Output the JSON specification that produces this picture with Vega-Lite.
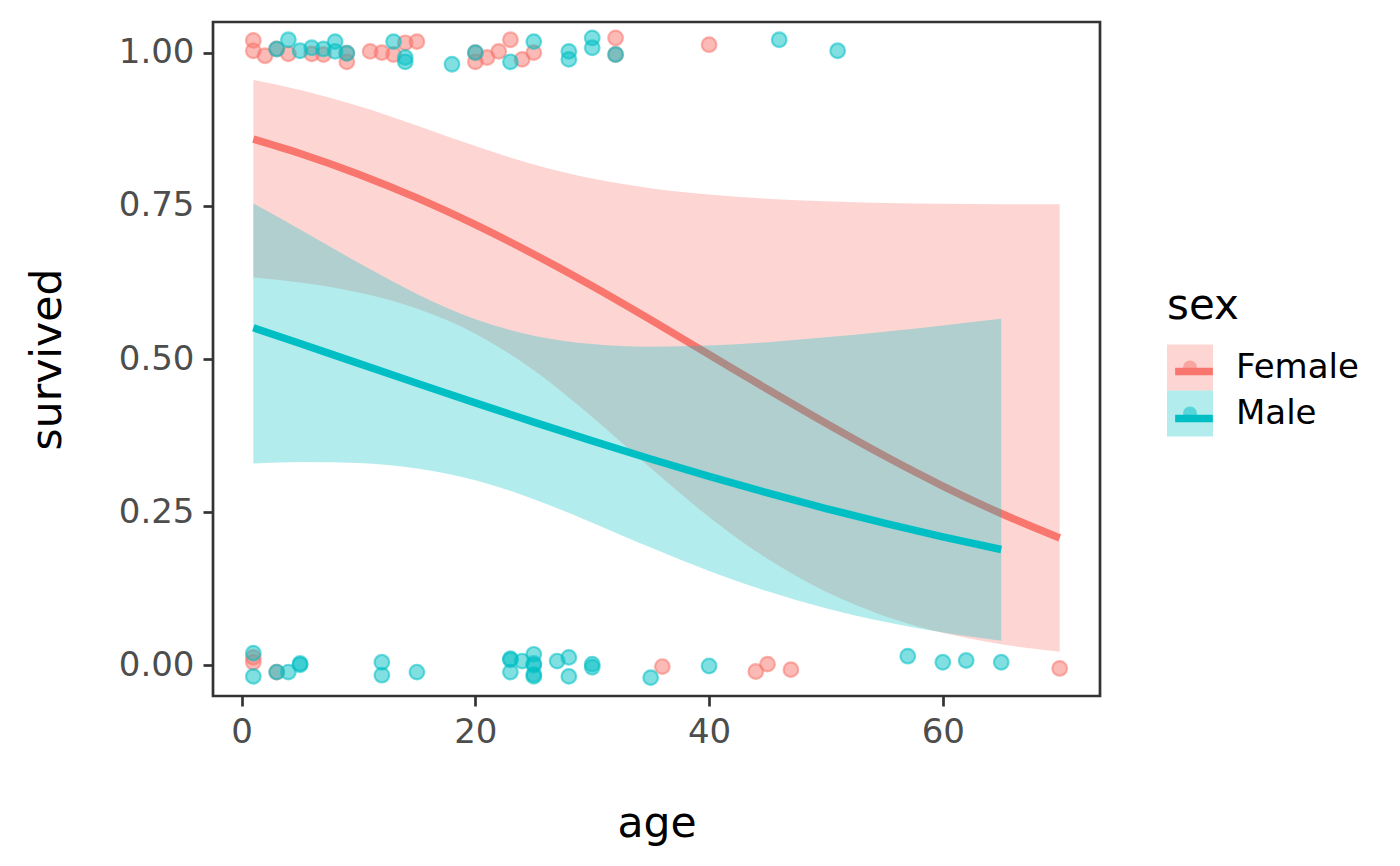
{
  "$schema": "https://vega.github.io/schema/vega-lite/v6.json",
  "width": 887,
  "height": 674,
  "autosize": {"type": "none"},
  "padding": {"left": 213, "top": 22, "right": 300, "bottom": 170},
  "background": "white",
  "config": {
    "font": "DejaVu Sans",
    "view": {"stroke": "#333333", "strokeWidth": 2.7},
    "axis": {
      "grid": false,
      "domain": false,
      "tickColor": "#333333",
      "tickWidth": 2.7,
      "tickSize": 10,
      "labelFont": "DejaVu Sans",
      "labelFontSize": 34,
      "labelColor": "#4D4D4D",
      "labelPadding": 9,
      "labelOverlap": false,
      "titleFont": "DejaVu Sans",
      "titleFontSize": 42.5,
      "titleFontWeight": "normal",
      "titleColor": "black"
    },
    "legend": {
      "orient": "none",
      "legendX": 954,
      "legendY": 264,
      "padding": 0,
      "rowPadding": 0,
      "titleFont": "DejaVu Sans",
      "titleFontSize": 42,
      "titleFontWeight": "normal",
      "titleColor": "black",
      "titlePadding": 16.5,
      "labelFont": "DejaVu Sans",
      "labelFontSize": 34,
      "labelColor": "black",
      "labelOffset": 23,
      "symbolSize": 2116
    }
  },
  "datasets": {
    "pts": [
      {"sex": "Female", "age": 1, "survived": 1.020},
      {"sex": "Female", "age": 1, "survived": 1.003},
      {"sex": "Female", "age": 2, "survived": 0.995},
      {"sex": "Female", "age": 3, "survived": 1.006},
      {"sex": "Female", "age": 4, "survived": 0.998},
      {"sex": "Female", "age": 6, "survived": 0.998},
      {"sex": "Female", "age": 7, "survived": 0.997},
      {"sex": "Female", "age": 9, "survived": 0.999},
      {"sex": "Female", "age": 9, "survived": 0.985},
      {"sex": "Female", "age": 11, "survived": 1.002},
      {"sex": "Female", "age": 12, "survived": 1.000},
      {"sex": "Female", "age": 13, "survived": 0.997},
      {"sex": "Female", "age": 14, "survived": 1.016},
      {"sex": "Female", "age": 15, "survived": 1.018},
      {"sex": "Female", "age": 20, "survived": 1.000},
      {"sex": "Female", "age": 20, "survived": 0.985},
      {"sex": "Female", "age": 21, "survived": 0.992},
      {"sex": "Female", "age": 22, "survived": 1.002},
      {"sex": "Female", "age": 23, "survived": 1.021},
      {"sex": "Female", "age": 24, "survived": 0.989},
      {"sex": "Female", "age": 25, "survived": 1.000},
      {"sex": "Female", "age": 32, "survived": 1.024},
      {"sex": "Female", "age": 32, "survived": 0.997},
      {"sex": "Female", "age": 40, "survived": 1.013},
      {"sex": "Male", "age": 3, "survived": 1.006},
      {"sex": "Male", "age": 4, "survived": 1.021},
      {"sex": "Male", "age": 5, "survived": 1.003},
      {"sex": "Male", "age": 6, "survived": 1.008},
      {"sex": "Male", "age": 7, "survived": 1.006},
      {"sex": "Male", "age": 8, "survived": 1.018},
      {"sex": "Male", "age": 8, "survived": 1.002},
      {"sex": "Male", "age": 9, "survived": 0.999},
      {"sex": "Male", "age": 13, "survived": 1.018},
      {"sex": "Male", "age": 14, "survived": 0.992},
      {"sex": "Male", "age": 14, "survived": 0.985},
      {"sex": "Male", "age": 18, "survived": 0.981},
      {"sex": "Male", "age": 20, "survived": 1.000},
      {"sex": "Male", "age": 23, "survived": 0.985},
      {"sex": "Male", "age": 25, "survived": 1.018},
      {"sex": "Male", "age": 28, "survived": 1.002},
      {"sex": "Male", "age": 28, "survived": 0.989},
      {"sex": "Male", "age": 30, "survived": 1.024},
      {"sex": "Male", "age": 30, "survived": 1.008},
      {"sex": "Male", "age": 32, "survived": 0.997},
      {"sex": "Male", "age": 46, "survived": 1.021},
      {"sex": "Male", "age": 51, "survived": 1.003},
      {"sex": "Female", "age": 1, "survived": 0.013},
      {"sex": "Female", "age": 1, "survived": 0.005},
      {"sex": "Female", "age": 3, "survived": -0.011},
      {"sex": "Female", "age": 36, "survived": -0.002},
      {"sex": "Female", "age": 44, "survived": -0.010},
      {"sex": "Female", "age": 45, "survived": 0.002},
      {"sex": "Female", "age": 47, "survived": -0.007},
      {"sex": "Female", "age": 70, "survived": -0.005},
      {"sex": "Male", "age": 1, "survived": 0.020},
      {"sex": "Male", "age": 1, "survived": -0.018},
      {"sex": "Male", "age": 3, "survived": -0.011},
      {"sex": "Male", "age": 4, "survived": -0.011},
      {"sex": "Male", "age": 5, "survived": 0.003},
      {"sex": "Male", "age": 5, "survived": 0.001},
      {"sex": "Male", "age": 12, "survived": 0.005},
      {"sex": "Male", "age": 12, "survived": -0.016},
      {"sex": "Male", "age": 15, "survived": -0.011},
      {"sex": "Male", "age": 23, "survived": 0.011},
      {"sex": "Male", "age": 23, "survived": 0.009},
      {"sex": "Male", "age": 23, "survived": -0.011},
      {"sex": "Male", "age": 24, "survived": 0.007},
      {"sex": "Male", "age": 25, "survived": 0.018},
      {"sex": "Male", "age": 25, "survived": 0.003},
      {"sex": "Male", "age": 25, "survived": 0.000},
      {"sex": "Male", "age": 25, "survived": -0.015},
      {"sex": "Male", "age": 25, "survived": -0.018},
      {"sex": "Male", "age": 27, "survived": 0.007},
      {"sex": "Male", "age": 28, "survived": 0.013},
      {"sex": "Male", "age": 28, "survived": -0.018},
      {"sex": "Male", "age": 30, "survived": 0.002},
      {"sex": "Male", "age": 30, "survived": -0.003},
      {"sex": "Male", "age": 35, "survived": -0.020},
      {"sex": "Male", "age": 40, "survived": -0.001},
      {"sex": "Male", "age": 57, "survived": 0.015},
      {"sex": "Male", "age": 60, "survived": 0.005},
      {"sex": "Male", "age": 62, "survived": 0.008},
      {"sex": "Male", "age": 65, "survived": 0.005}
    ],
    "fits": [
      {"sex": "Female", "age": 1, "fit": 0.8589, "lower": 0.6333, "upper": 0.9555},
      {"sex": "Female", "age": 5, "fit": 0.8354, "lower": 0.6248, "upper": 0.9392},
      {"sex": "Female", "age": 10, "fit": 0.8016, "lower": 0.6086, "upper": 0.9130},
      {"sex": "Female", "age": 15, "fit": 0.7629, "lower": 0.5825, "upper": 0.8812},
      {"sex": "Female", "age": 20, "fit": 0.7192, "lower": 0.5414, "upper": 0.8475},
      {"sex": "Female", "age": 25, "fit": 0.6710, "lower": 0.4816, "upper": 0.8175},
      {"sex": "Female", "age": 30, "fit": 0.6190, "lower": 0.4055, "upper": 0.7946},
      {"sex": "Female", "age": 35, "fit": 0.5639, "lower": 0.3220, "upper": 0.7788},
      {"sex": "Female", "age": 40, "fit": 0.5073, "lower": 0.2422, "upper": 0.7684},
      {"sex": "Female", "age": 45, "fit": 0.4505, "lower": 0.1738, "upper": 0.7617},
      {"sex": "Female", "age": 50, "fit": 0.3950, "lower": 0.1201, "upper": 0.7574},
      {"sex": "Female", "age": 55, "fit": 0.3420, "lower": 0.0807, "upper": 0.7547},
      {"sex": "Female", "age": 60, "fit": 0.2927, "lower": 0.0531, "upper": 0.7532},
      {"sex": "Female", "age": 65, "fit": 0.2478, "lower": 0.0345, "upper": 0.7525},
      {"sex": "Female", "age": 70, "fit": 0.2079, "lower": 0.0222, "upper": 0.7524},
      {"sex": "Male", "age": 1, "fit": 0.5510, "lower": 0.3296, "upper": 0.7539},
      {"sex": "Male", "age": 5, "fit": 0.5253, "lower": 0.3317, "upper": 0.7115},
      {"sex": "Male", "age": 10, "fit": 0.4928, "lower": 0.3301, "upper": 0.6571},
      {"sex": "Male", "age": 15, "fit": 0.4605, "lower": 0.3212, "upper": 0.6062},
      {"sex": "Male", "age": 20, "fit": 0.4284, "lower": 0.3020, "upper": 0.5650},
      {"sex": "Male", "age": 25, "fit": 0.3970, "lower": 0.2713, "upper": 0.5380},
      {"sex": "Male", "age": 30, "fit": 0.3664, "lower": 0.2328, "upper": 0.5243},
      {"sex": "Male", "age": 35, "fit": 0.3368, "lower": 0.1922, "upper": 0.5201},
      {"sex": "Male", "age": 40, "fit": 0.3085, "lower": 0.1541, "upper": 0.5220},
      {"sex": "Male", "age": 45, "fit": 0.2815, "lower": 0.1209, "upper": 0.5275},
      {"sex": "Male", "age": 50, "fit": 0.2560, "lower": 0.0932, "upper": 0.5353},
      {"sex": "Male", "age": 55, "fit": 0.2321, "lower": 0.0710, "upper": 0.5446},
      {"sex": "Male", "age": 60, "fit": 0.2098, "lower": 0.0535, "upper": 0.5548},
      {"sex": "Male", "age": 65, "fit": 0.1891, "lower": 0.0401, "upper": 0.5656}
    ]
  },
  "encoding": {
    "x": {
      "field": "age",
      "type": "quantitative",
      "scale": {"domain": [-2.45, 73.45], "nice": false, "zero": false},
      "axis": {"values": [0, 20, 40, 60], "title": "age", "titleY": 140, "titleBaseline": "alphabetic"}
    }
  },
  "layer": [
    {
      "data": {"name": "pts"},
      "mark": {
        "type": "point",
        "filled": true,
        "size": 215,
        "opacity": 1,
        "fillOpacity": 0.5,
        "strokeOpacity": 0.55,
        "strokeWidth": 2.2,
        "stroke": {"expr": "datum.sex === 'Female' ? '#F8766D' : '#00BFC4'"}
      },
      "encoding": {
        "y": {
          "field": "survived",
          "type": "quantitative",
          "title": "survived",
          "scale": {"domain": [-0.05, 1.05], "nice": false, "zero": false},
          "axis": {"values": [0, 0.25, 0.5, 0.75, 1], "format": ".2f", "titleX": -153, "titleBaseline": "alphabetic"}
        },
        "color": {
          "field": "sex",
          "type": "nominal",
          "scale": {"range": ["#F8766D", "#00BFC4"]},
          "legend": {
            "title": null,
            "labelExpr": "''",
            "labelFontSize": 8,
            "legendY": 322.5,
            "symbolType": "M0,-0.96M0,0.96M-0.3,0A0.3,0.3 0 1,0 0.3,0A0.3,0.3 0 1,0 -0.3,0Z",
            "symbolOpacity": 0.5,
            "symbolStrokeWidth": 0
          }
        }
      }
    },
    {
      "data": {"name": "fits"},
      "transform": [{"filter": "datum.sex === 'Female'"}],
      "mark": {"type": "area", "opacity": 0.3, "interpolate": "monotone"},
      "encoding": {
        "y": {"field": "upper", "type": "quantitative", "title": "survived"},
        "y2": {"field": "lower"},
        "fill": {
          "field": "sex",
          "type": "nominal",
          "scale": {"domain": ["Female", "Male"], "range": ["#F8766D", "#00BFC4"]},
          "legend": {"title": "sex", "symbolType": "square", "symbolOpacity": 0.3, "symbolStrokeWidth": 0}
        }
      }
    },
    {
      "data": {"name": "fits"},
      "transform": [{"filter": "datum.sex === 'Female'"}],
      "mark": {"type": "line", "strokeWidth": 7.5, "interpolate": "monotone", "strokeCap": "butt"},
      "encoding": {
        "y": {"field": "fit", "type": "quantitative", "title": "survived"},
        "stroke": {
          "field": "sex",
          "type": "nominal",
          "scale": {"range": ["#F8766D", "#00BFC4"]},
          "legend": {
            "title": null,
            "labelExpr": "''",
            "labelFontSize": 8,
            "legendY": 322.5,
            "symbolType": "M0,-0.2M0,0.2M-0.82,0L0.82,0",
            "symbolStrokeWidth": 7.5
          }
        }
      }
    },
    {
      "data": {"name": "fits"},
      "transform": [{"filter": "datum.sex === 'Male'"}],
      "mark": {"type": "area", "opacity": 0.3, "interpolate": "monotone"},
      "encoding": {
        "y": {"field": "upper", "type": "quantitative", "title": "survived"},
        "y2": {"field": "lower"},
        "fill": {
          "field": "sex",
          "type": "nominal",
          "scale": {"domain": ["Female", "Male"], "range": ["#F8766D", "#00BFC4"]},
          "legend": {"title": "sex", "symbolType": "square", "symbolOpacity": 0.3, "symbolStrokeWidth": 0}
        }
      }
    },
    {
      "data": {"name": "fits"},
      "transform": [{"filter": "datum.sex === 'Male'"}],
      "mark": {"type": "line", "strokeWidth": 7.5, "interpolate": "monotone", "strokeCap": "butt"},
      "encoding": {
        "y": {"field": "fit", "type": "quantitative", "title": "survived"},
        "stroke": {
          "field": "sex",
          "type": "nominal",
          "scale": {"range": ["#F8766D", "#00BFC4"]},
          "legend": {
            "title": null,
            "labelExpr": "''",
            "labelFontSize": 8,
            "legendY": 322.5,
            "symbolType": "M0,-0.2M0,0.2M-0.82,0L0.82,0",
            "symbolStrokeWidth": 7.5
          }
        }
      }
    }
  ]
}
